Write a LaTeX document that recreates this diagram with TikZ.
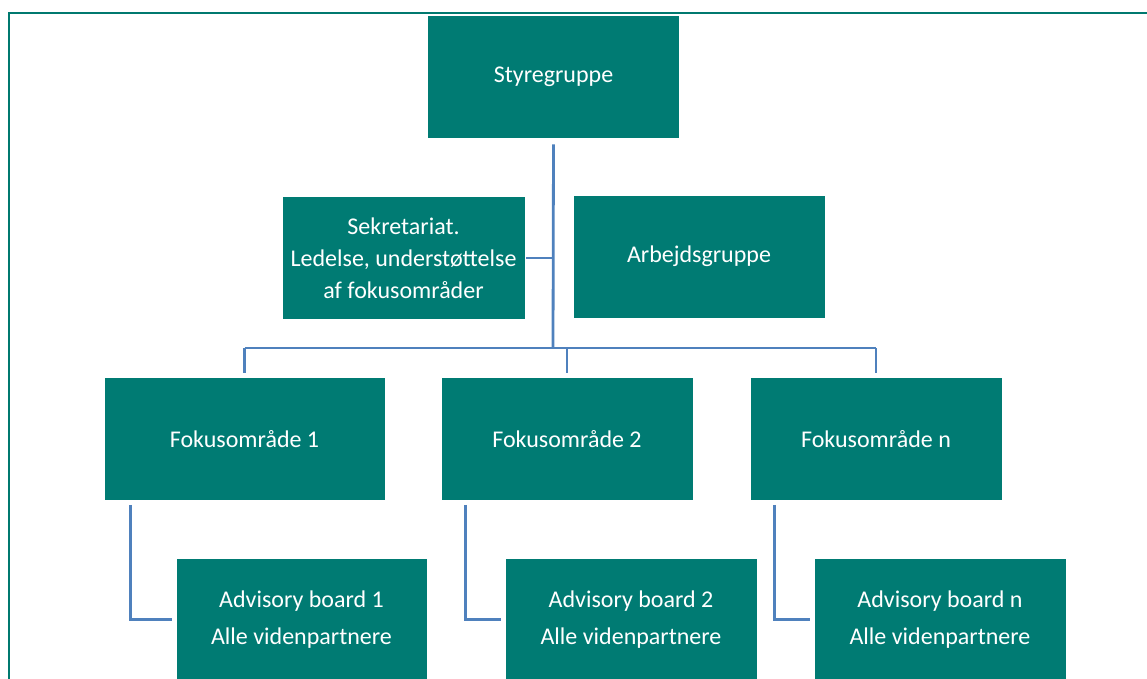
\documentclass[tikz,border=0pt]{standalone}
\usepackage{fontspec}
\setmainfont{Carlito}
\definecolor{boxteal}{RGB}{0,123,115}
\definecolor{linkblue}{RGB}{79,129,189}
\definecolor{frameteal}{RGB}{0,121,111}

\begin{document}
\begin{tikzpicture}[x=1pt,y=-1pt,
    box/.style={fill=boxteal,draw=white,line width=0.6pt,text=white,inner sep=0pt,
      align=center,minimum width=252pt,minimum height=123pt,font=\fontsize{24}{32}\selectfont},
    link/.style={draw=linkblue,line width=2.8pt}]
  \useasboundingbox (0,0) rectangle (1147,678);
  \draw[frameteal,line width=2.2pt] (1150,13) -| (9,690);
  \node[box] (sty) at (553.5,76.5) {Styregruppe};
  \node[box,minimum width=243pt] (sek) at (403.5,258) {Sekretariat.\\Ledelse, underst\o ttelse\\af fokusomr\aa der};
  \node[box] (arb) at (699,256.5) {Arbejdsgruppe};
  \node[box,minimum width=281pt] (fok1) at (244.5,439) {Fokusomr\aa de 1};
  \node[box] (fok2) at (567,439) {Fokusomr\aa de 2};
  \node[box] (fokn) at (876,439) {Fokusomr\aa de n};
  \node[box,minimum width=251pt] (adv1) at (301.5,619.5) {Advisory board 1\\[5pt]Alle videnpartnere};
  \node[box] (adv2) at (631,619.5) {Advisory board 2\\[5pt]Alle videnpartnere};
  \node[box] (advn) at (940,619.5) {Advisory board n\\[5pt]Alle videnpartnere};
  \coordinate (bus) at (553,348);
  \draw[link,shorten <=6pt] (sty.south) -- (bus);
  \draw[link,shorten <=1pt] (sek.east) -- (sek.east -| sty.south);
  \draw[link] (bus -| fok1) -- (bus -| fokn);
  \draw[link,shorten >=4pt] (bus -| fok1) -- (fok1.north);
  \draw[link,shorten >=4pt] (bus -| fok2) -- (fok2.north);
  \draw[link,shorten >=4pt] (bus -| fokn) -- (fokn.north);
  \draw[link,shorten <=4pt,shorten >=4pt] ([xshift=27pt]fok1.south west) |- (adv1.west);
  \draw[link,shorten <=4pt,shorten >=4pt] ([xshift=25pt]fok2.south west) |- (adv2.west);
  \draw[link,shorten <=4pt,shorten >=4pt] ([xshift=25pt]fokn.south west) |- (advn.west);
\end{tikzpicture}
\end{document}
